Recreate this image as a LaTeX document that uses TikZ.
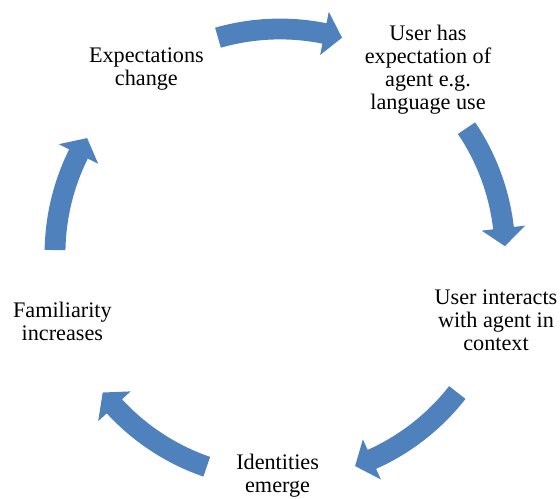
\documentclass[tikz,border=0pt]{standalone}
\usepackage{fontspec}
\setmainfont{Liberation Serif}
\usepackage{tikz}

\definecolor{cycleblue}{RGB}{79,129,189}

% radii of the ring of arrows (cm) and head length (degrees)
\newcommand{\cycR}{5.625}
\newcommand{\cycRin}{5.365}
\newcommand{\cycRout}{5.885}
\newcommand{\cycHin}{5.075}
\newcommand{\cycHout}{6.175}
\newcommand{\cycHead}{4.6}

% curved block arrow running clockwise from angle #1 to angle #2
\newcommand{\cyclearrow}[2]{%
	\fill[cycleblue] (#1:\cycRin) -- (#1:\cycRout)
		arc[start angle=#1, end angle=#2+\cycHead, radius=\cycRout]
		-- (#2+\cycHead:\cycHout) -- (#2:\cycR) -- (#2+\cycHead:\cycHin)
		-- (#2+\cycHead:\cycRin)
		arc[start angle=#2+\cycHead, end angle=#1, radius=\cycRin] -- cycle;}

\begin{document}
\begin{tikzpicture}[every node/.style={align=center, font=\fontsize{15.8}{16.4}\selectfont}]
	\useasboundingbox (-7,-6.125) rectangle (7,6.35);

	% the five stages
	\node (expect) at (3.70,4.60) {User has\\expectation of\\agent e.g.\\language use};
	\node (interact) at (5.40,-1.65) {User interacts\\with agent in\\context};
	\node (identity) at (-0.06,-5.55) {Identities\\emerge};
	\node (familiar) at (-5.44,-1.68) {Familiarity\\increases};
	\node (change) at (-3.34,4.63) {Expectations\\change};

	% arrows between the stages
	\cyclearrow{106}{74}
	\cyclearrow{34}{2}
	\cyclearrow{-38}{-70.5}
	\cyclearrow{-109}{-142}
	\cyclearrow{179}{149}
\end{tikzpicture}
\end{document}
